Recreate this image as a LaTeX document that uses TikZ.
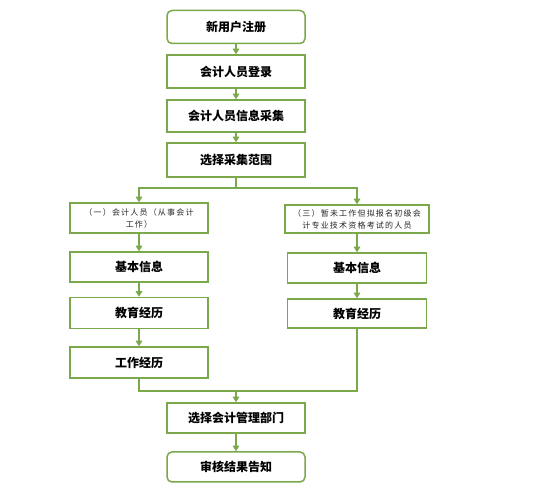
\documentclass[tikz,border=0pt]{standalone}
\usepackage{fontspec}
\newfontfamily\cjk{Noto Sans CJK SC}
\newfontfamily\cjkthin[LetterSpace=15]{Noto Sans CJK SC}
\usetikzlibrary{arrows.meta}
\definecolor{boxgreen}{HTML}{7AA84A}
\begin{document}
\begin{tikzpicture}[x=1pt, y=-1pt,
    stepbox/.style={draw=boxgreen, line width=1.5pt, fill=white, minimum width=138pt,
        minimum height=31pt, inner sep=0pt, font=\cjk\bfseries\fontsize{12}{14}\selectfont},
    endbox/.style={stepbox, rounded corners=5pt},
    groupbox/.style={stepbox, align=center, text=black!85,
        font=\cjkthin\fontsize{8}{12}\selectfont},
    flow/.style={draw=boxgreen, line width=1.5pt},
    arrow/.style={flow, -{Triangle[width=6.5pt,length=5.5pt]}}]
    \useasboundingbox (0,0) rectangle (550,500);

    % Draw the main column at the top
    \node[endbox, minimum height=33pt] (register) at (236,27) {新用户注册};
    \node[stepbox, minimum height=33pt] (login) at (236,71.5) {会计人员登录};
    \node[stepbox, minimum height=32pt] (collect) at (236,116) {会计人员信息采集};
    \node[stepbox, minimum height=34pt] (scope) at (236,160) {选择采集范围};
    \coordinate (split) at (236,188);

    % Left branch
    \node[groupbox, minimum height=30pt] (groupA) at (139,218) {（一）会计人员（从事会计\\工作）};
    \node[stepbox, minimum height=30pt] (baseA) at (139,267) {基本信息};
    \node[stepbox] (eduA) at (139,313) {教育经历};
    \node[stepbox] (workA) at (139,362.5) {工作经历};

    % Right branch
    \node[groupbox, minimum width=144pt, minimum height=28pt] (groupB) at (357,219) {（三）暂未工作但拟报名初级会\\计专业技术资格考试的人员};
    \node[stepbox, minimum width=139pt, minimum height=30pt] (baseB) at (357,268) {基本信息};
    \node[stepbox, minimum width=139pt, minimum height=29pt] (eduB) at (357,313.5) {教育经历};
    \coordinate (join) at (236,391);

    % Bottom of the main column
    \node[stepbox, minimum height=30pt] (dept) at (236,418) {选择会计管理部门};
    \node[endbox, minimum height=30pt] (result) at (236,467) {审核结果告知};

    % Connectors
    \draw[arrow] (register) -- (login);
    \draw[arrow] (login) -- (collect);
    \draw[arrow] (collect) -- (scope);
    \draw[flow] (scope) -- (split);
    \draw[arrow] (split) -| (groupA);
    \draw[arrow] (split) -| (groupB);
    \draw[arrow] (groupA) -- (baseA);
    \draw[arrow] (baseA) -- (eduA);
    \draw[arrow] (eduA) -- (workA);
    \draw[arrow] (groupB) -- (baseB);
    \draw[arrow] (baseB) -- (eduB);
    \draw[flow] (workA) |- (join);
    \draw[flow] (eduB) |- (join);
    \draw[arrow] (join) -- (dept);
    \draw[arrow] (dept) -- (result);
\end{tikzpicture}
\end{document}
